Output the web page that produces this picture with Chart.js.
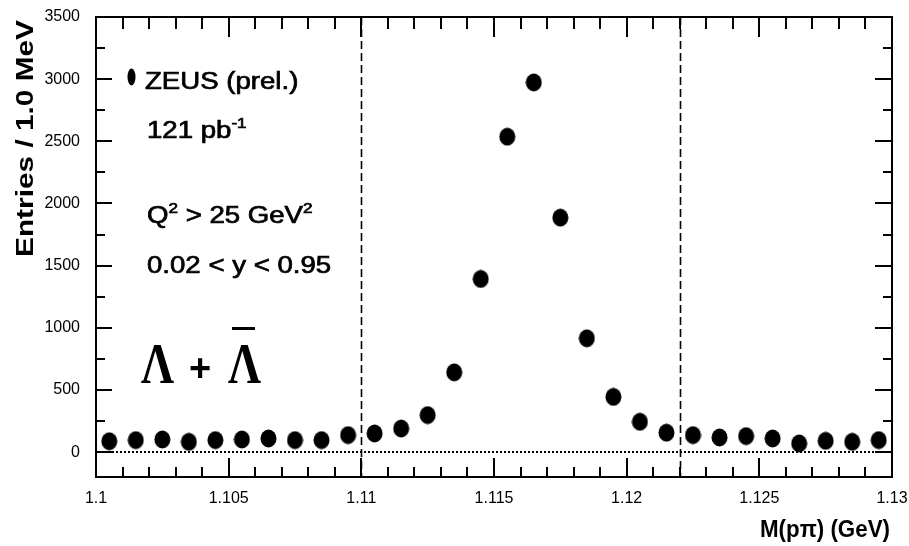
<!DOCTYPE html>
<html>
<head>
<meta charset="utf-8">
<title>ZEUS Lambda mass peak</title>
<script src="https://cdn.jsdelivr.net/npm/chart.js@4.4.1/dist/chart.umd.min.js"></script>
<style>
  html, body { margin: 0; padding: 0; background: #fff; }
  #massChart { display: block; }
</style>
</head>
<body>
<canvas id="massChart" width="909" height="546"></canvas>
<script>
// bin centres, 1 MeV bins (GeV)
const massBins = [
  1.1005, 1.1015, 1.1025, 1.1035, 1.1045, 1.1055, 1.1065, 1.1075, 1.1085, 1.1095,
  1.1105, 1.1115, 1.1125, 1.1135, 1.1145, 1.1155, 1.1165, 1.1175, 1.1185, 1.1195,
  1.1205, 1.1215, 1.1225, 1.1235, 1.1245, 1.1255, 1.1265, 1.1275, 1.1285, 1.1295,
];
const entries = [
  88, 97, 102, 83, 97, 102, 110, 97, 97, 137,
  150, 190, 298, 642, 1393, 2537, 2974, 1886, 916, 444,
  244, 156, 137, 118, 129, 110, 70, 91, 83, 97,
];
const xTickValues = [1.1, 1.105, 1.11, 1.115, 1.12, 1.125, 1.13];
const xTickLabels = ["1.1", "1.105", "1.11", "1.115", "1.12", "1.125", "1.13"];
const yTickValues = [0, 500, 1000, 1500, 2000, 2500, 3000, 3500];
const signalWindow = [1.11, 1.122];

const SANS = '"Liberation Sans", Arial, Helvetica, sans-serif';
const SERIF = '"Liberation Serif", "Times New Roman", serif';

// slightly tall round marker like the original plot
const makeMarker = () => {
  const c = document.createElement("canvas");
  c.width = 17;
  c.height = 19;
  const g = c.getContext("2d");
  g.fillStyle = "#000";
  g.beginPath();
  g.ellipse(8.5, 9.5, 8, 9, 0, 0, Math.PI * 2);
  g.fill();
  return c;
};

// draw a row of text pieces (with superscripts), stretched horizontally by sx
const drawRich = (ctx, parts, x, y, size, sx) => {
  let cx = x;
  parts.forEach((p) => {
    const fs = p.sup ? size * 0.62 : size;
    const dy = p.sup ? -size * 0.45 : 0;
    ctx.font = `${fs}px ${SANS}`;
    const w = ctx.measureText(p.t).width * sx;
    ctx.save();
    ctx.translate(cx, y + dy);
    ctx.scale(sx, 1);
    ctx.fillText(p.t, 0, 0);
    ctx.strokeText(p.t, 0, 0);
    ctx.restore();
    cx += w;
  });
};

const fitText = (ctx, text, x, y, font, width, align) => {
  ctx.font = font;
  const sx = width / ctx.measureText(text).width;
  ctx.save();
  ctx.translate(align === "right" ? x - width : x, y);
  ctx.scale(sx, 1);
  ctx.textAlign = "left";
  ctx.fillText(text, 0, 0);
  ctx.restore();
};

const pinScale = (scale) => {
  scale.paddingTop = 0;
  scale.paddingBottom = 0;
  scale.paddingLeft = 0;
  scale.paddingRight = 0;
};

const framePlugin = {
  id: "rootFrame",
  beforeDatasetsDraw(chart) {
    const { ctx, chartArea: a, scales } = chart;
    const xs = scales.x;
    const ys = scales.y;
    ctx.save();
    ctx.strokeStyle = "#000";
    // dotted zero line
    ctx.lineWidth = 2;
    ctx.setLineDash([2, 2]);
    const y0 = Math.round(ys.getPixelForValue(0));
    ctx.beginPath();
    ctx.moveTo(a.left, y0);
    ctx.lineTo(a.right, y0);
    ctx.stroke();
    // signal window
    ctx.lineWidth = 1.6;
    ctx.setLineDash([8, 4]);
    signalWindow.forEach((m) => {
      const px = Math.round(xs.getPixelForValue(m)) + 0.5;
      ctx.beginPath();
      ctx.moveTo(px, a.top);
      ctx.lineTo(px, a.bottom);
      ctx.stroke();
    });
    ctx.restore();
  },
  afterDatasetsDraw(chart) {
    const { ctx, chartArea: a, scales } = chart;
    const xs = scales.x;
    const ys = scales.y;
    ctx.save();
    ctx.strokeStyle = "#000";
    ctx.lineWidth = 2;
    ctx.setLineDash([]);
    ctx.strokeRect(a.left, a.top, a.right - a.left, a.bottom - a.top);

    ctx.beginPath();
    // x ticks, 1 MeV minor / 5 MeV major, bottom and top
    for (let i = 0; i <= 30; i++) {
      const px = Math.round(xs.getPixelForValue(1.1 + i * 0.001));
      const major = i % 5 === 0;
      const lb = major ? 19 : 10;
      const lt = major ? 20 : 12;
      ctx.moveTo(px, a.bottom);
      ctx.lineTo(px, a.bottom - lb);
      ctx.moveTo(px, a.top);
      ctx.lineTo(px, a.top + lt);
    }
    // y ticks, 250 minor / 500 major, left and right
    for (let v = 0; v <= 3500; v += 250) {
      const py = Math.round(ys.getPixelForValue(v));
      const major = v % 500 === 0;
      const ll = major ? 16 : 9;
      const lr = major ? 17 : 9;
      ctx.moveTo(a.left, py);
      ctx.lineTo(a.left + ll, py);
      ctx.moveTo(a.right, py);
      ctx.lineTo(a.right - lr, py);
    }
    ctx.stroke();
    ctx.restore();
  },
  afterDraw(chart) {
    const { ctx } = chart;
    ctx.save();
    ctx.fillStyle = "#000";
    ctx.strokeStyle = "#000";
    ctx.lineWidth = 0.7;
    ctx.textBaseline = "alphabetic";

    // axis titles
    fitText(ctx, "M(p\u03c0) (GeV)", 890, 537, `bold 24px ${SANS}`, 130, "right");
    ctx.save();
    ctx.translate(33, 257);
    ctx.rotate(-Math.PI / 2);
    fitText(ctx, "Entries / 1.0 MeV", 0, 0, `bold 24px ${SANS}`, 237, "left");
    ctx.restore();

    // legend marker + labels
    ctx.beginPath();
    ctx.ellipse(131.5, 77, 4, 8.5, 0, 0, Math.PI * 2);
    ctx.fill();
    const sx = 1.2;
    drawRich(ctx, [{ t: "ZEUS (prel.)" }], 145, 89, 23, sx);
    drawRich(ctx, [{ t: "121 pb" }, { t: "-1", sup: true }], 147, 138, 23, sx);
    drawRich(ctx, [{ t: "Q" }, { t: "2", sup: true }, { t: " > 25 GeV" }, { t: "2", sup: true }], 147, 223, 23, sx);
    drawRich(ctx, [{ t: "0.02 < y < 0.95" }], 147, 273, 23, sx);

    // Lambda + anti-Lambda
    ctx.font = `bold 58px ${SERIF}`;
    const lw = ctx.measureText("\u039b").width;
    const ls = 33 / lw;
    [141, 228].forEach((lx) => {
      ctx.save();
      ctx.translate(lx, 383);
      ctx.scale(ls, 1);
      ctx.fillText("\u039b", 0, 0);
      ctx.restore();
    });
    ctx.fillRect(232, 327, 23, 3);
    ctx.font = `bold 38px ${SANS}`;
    ctx.fillText("+", 189, 381);
    ctx.restore();
  },
};

const initializeChart = () => {
  const canvas = document.getElementById("massChart");
  const points = massBins.map((m, i) => ({ x: m, y: entries[i] }));

  new Chart(canvas, {
    type: "scatter",
    data: {
      datasets: [
        {
          label: "ZEUS (prel.)",
          data: points,
          pointStyle: makeMarker(),
          pointRadius: 8,
          backgroundColor: "#000",
          borderColor: "#000",
        },
      ],
    },
    options: {
      responsive: false,
      animation: false,
      devicePixelRatio: 1,
      layout: { padding: { left: 0, top: 17, right: 17, bottom: 0 } },
      plugins: {
        legend: { display: false },
        tooltip: { enabled: false },
      },
      scales: {
        x: {
          type: "linear",
          min: 1.1,
          max: 1.13,
          grid: { display: false, drawTicks: false },
          border: { display: false },
          afterFit: (scale) => {
            scale.height = 69;
            pinScale(scale);
          },
          afterBuildTicks: (scale) => {
            scale.ticks = xTickValues.map((v) => ({ value: v }));
          },
          ticks: {
            autoSkip: false,
            maxRotation: 0,
            padding: 12,
            color: "#000",
            font: { family: SANS, size: 16 },
            callback: (v, i) => xTickLabels[i],
          },
        },
        y: {
          type: "linear",
          min: -200,
          max: 3500,
          grid: { display: false, drawTicks: false },
          border: { display: false },
          afterFit: (scale) => {
            scale.width = 96;
            pinScale(scale);
          },
          afterBuildTicks: (scale) => {
            scale.ticks = yTickValues.map((v) => ({ value: v }));
          },
          ticks: {
            autoSkip: false,
            padding: 16,
            color: "#000",
            font: { family: SANS, size: 16 },
            callback: (v) => String(v),
          },
        },
      },
    },
    plugins: [framePlugin],
  });
};

document.addEventListener("DOMContentLoaded", initializeChart);
</script>
</body>
</html>
